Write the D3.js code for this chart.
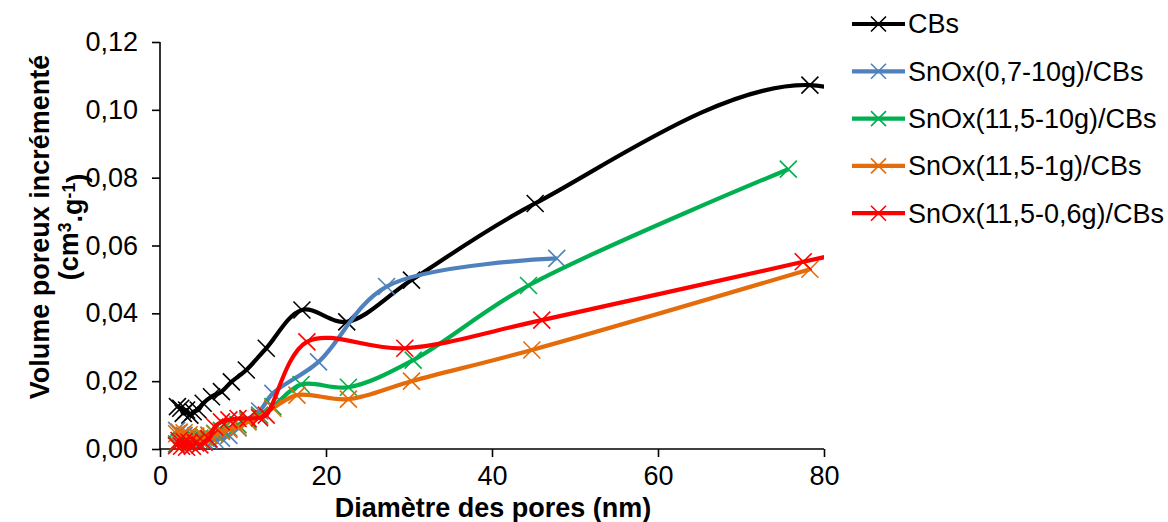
<!DOCTYPE html>
<html>
<head>
<meta charset="utf-8">
<script src="https://cdn.jsdelivr.net/npm/d3@7"></script>
<style>
  html, body { margin: 0; padding: 0; background: #fff; }
  svg { display: block; font-family: "Liberation Sans", Arial, sans-serif; }
</style>
</head>
<body>
<svg id="chart" width="1168" height="522"></svg>
<script>
// ---- data ----
const seriesNames = ["CBs", "SnOx(0,7-10g)/CBs", "SnOx(11,5-10g)/CBs", "SnOx(11,5-1g)/CBs", "SnOx(11,5-0,6g)/CBs"];
const seriesColors = ["#000000", "#4F81BD", "#00B050", "#E46C0A", "#FF0000"];

const cbsX = [2.1, 2.5, 2.8, 3.2, 3.6, 4.0, 4.6, 5.2, 6.2, 7.4, 8.6, 10.4, 12.8, 17.1, 22.5, 30.3, 45.2, 78.3, 105];
const cbsY = [0.0125, 0.0120, 0.0105, 0.0115, 0.0100, 0.0110, 0.0115, 0.0135, 0.0154, 0.0169, 0.0198, 0.0233, 0.0297, 0.0410, 0.0375, 0.0498, 0.0724, 0.1073, 0.0740];

const smallX = [2.0, 2.3, 2.6, 2.9, 3.2, 3.5, 3.9, 4.3, 4.8, 5.3, 5.9, 6.6, 7.4, 8.3, 9.4, 10.6, 12.0];

const blueX = smallX.concat([13.6, 19.1, 27.3, 47.8]);
const blueY = [0.0055, 0.0048, 0.0042, 0.0040, 0.0035, 0.0033, 0.0030, 0.0028, 0.0027, 0.0026, 0.0026, 0.0028, 0.0032, 0.0040, 0.0062, 0.0088, 0.0112, 0.0164, 0.0257, 0.0479, 0.0562];

const greenX = smallX.concat([13.6, 17.0, 22.7, 30.5, 44.4, 75.7]);
const greenY = [0.0015, 0.0020, 0.0025, 0.0022, 0.0028, 0.0025, 0.0030, 0.0028, 0.0032, 0.0035, 0.0040, 0.0046, 0.0055, 0.0062, 0.0072, 0.0085, 0.0100, 0.0125, 0.0190, 0.0182, 0.0262, 0.0482, 0.0825];

const orangeX = smallX.concat([13.6, 16.5, 22.7, 30.3, 44.8, 78.3]);
const orangeY = [0.0045, 0.0050, 0.0040, 0.0048, 0.0035, 0.0042, 0.0030, 0.0038, 0.0030, 0.0035, 0.0040, 0.0045, 0.0052, 0.0058, 0.0065, 0.0080, 0.0095, 0.0120, 0.0159, 0.0147, 0.0200, 0.0292, 0.0530];

const redX = smallX.concat([12.8, 17.7, 29.5, 46.0, 77.5, 100]);
const redY = [0.0010, 0.0025, 0.0008, 0.0022, 0.0005, 0.0020, 0.0008, 0.0018, 0.0012, 0.0020, 0.0030, 0.0065, 0.0080, 0.0086, 0.0090, 0.0090, 0.0092, 0.0100, 0.0316, 0.0297, 0.0380, 0.0552, 0.0672];

const xTicks = [0, 20, 40, 60, 80];
const yTicks = [0, 0.02, 0.04, 0.06, 0.08, 0.10, 0.12];
const yTickLabels = ["0,00", "0,02", "0,04", "0,06", "0,08", "0,10", "0,12"];

const xTitle = "Diamètre des pores (nm)";
const yTitle1 = "Volume poreux incrémenté";

// ---- layout ----
const svg = d3.select("#chart");
const L = 160, R = 824, T = 42, B = 449;
const x = d3.scaleLinear().domain([0, 80]).range([L, R]);
const y = d3.scaleLinear().domain([0, 0.12]).range([B, T]);

svg.append("defs").append("clipPath").attr("id", "plotclip")
  .append("rect").attr("x", L).attr("y", T - 20).attr("width", R - L).attr("height", B - T + 30);

const seriesData = [
  [cbsX, cbsY], [blueX, blueY], [greenX, greenY], [orangeX, orangeY], [redX, redY]
].map(([xs, ys]) => xs.map((v, i) => [v, ys[i]]));

const line = d3.line().x(d => x(d[0])).y(d => y(d[1])).curve(d3.curveCatmullRom.alpha(0.5));

function cross(s) {
  return `M${-s},${-s}L${s},${s}M${-s},${s}L${s},${-s}`;
}

// ---- axes ----
const fs = 27;
const yAxis = d3.axisLeft(y).tickValues(yTicks).tickFormat((d, i) => yTickLabels[i]).tickSize(8).tickPadding(14);
const gy = svg.append("g").attr("transform", `translate(${L},0)`).call(yAxis);
const xAxis = d3.axisBottom(x).tickValues(xTicks).tickFormat(d3.format("d")).tickSize(8).tickPadding(9);
const gx = svg.append("g").attr("transform", `translate(0,${B})`).call(xAxis);
[gx, gy].forEach(g => {
  g.select(".domain").attr("stroke", "#000").attr("stroke-width", 1.6);
  g.selectAll(".tick line").attr("stroke", "#000").attr("stroke-width", 1.6);
  g.selectAll(".tick text").attr("fill", "#000").style("font-size", fs + "px").style("font-family", '"Liberation Sans", Arial, sans-serif');
});
gx.select(".domain").attr("d", `M${L},0H${R}`);
gy.select(".domain").attr("d", `M0,${B}V${T}`);

// ---- series ----
const plot = svg.append("g").attr("clip-path", "url(#plotclip)");
seriesData.forEach((data, i) => {
  const g = plot.append("g");
  g.append("path").datum(data).attr("d", line)
    .attr("fill", "none").attr("stroke", seriesColors[i]).attr("stroke-width", 4.2)
    .attr("stroke-linejoin", "round");
  g.selectAll("path.m").data(data).join("path").attr("class", "m")
    .attr("transform", d => `translate(${x(d[0])},${y(d[1])})`)
    .attr("d", cross(8.5))
    .attr("stroke", seriesColors[i]).attr("stroke-width", 1.6).attr("fill", "none");
});

// ---- titles ----
svg.append("text").attr("x", 493).attr("y", 517).attr("text-anchor", "middle")
  .style("font-size", fs + "px").style("font-weight", "bold").text(xTitle);

const yt = svg.append("text").attr("transform", `translate(40,227) rotate(-90)`)
  .attr("text-anchor", "middle").style("font-size", fs + "px").style("font-weight", "bold");
yt.append("tspan").attr("x", 0).attr("dy", "0.35em").text(yTitle1);
const yt2 = svg.append("text").attr("transform", `translate(69,227) rotate(-90)`)
  .attr("text-anchor", "middle").style("font-size", fs + "px").style("font-weight", "bold");
yt2.append("tspan").attr("dy", "0.35em").text("(cm");
yt2.append("tspan").attr("dy", "-0.4em").style("font-size", (fs * 0.65) + "px").text("3");
yt2.append("tspan").attr("dy", "0.4em").text(".g");
yt2.append("tspan").attr("dy", "-0.4em").style("font-size", (fs * 0.65) + "px").text("-1");
yt2.append("tspan").attr("dy", "0.4em").text(")");

// ---- legend ----
const lg = svg.append("g");
seriesNames.forEach((name, i) => {
  const cy = 24 + i * 47.3;
  lg.append("line").attr("x1", 852).attr("x2", 905).attr("y1", cy).attr("y2", cy)
    .attr("stroke", seriesColors[i]).attr("stroke-width", 4.2);
  lg.append("path").attr("transform", `translate(878.5,${cy})`).attr("d", cross(7.5))
    .attr("stroke", seriesColors[i]).attr("stroke-width", 1.6).attr("fill", "none");
  lg.append("text").attr("x", 908).attr("y", cy).attr("dy", "0.35em")
    .style("font-size", fs + "px").text(name);
});
</script>
</body>
</html>
